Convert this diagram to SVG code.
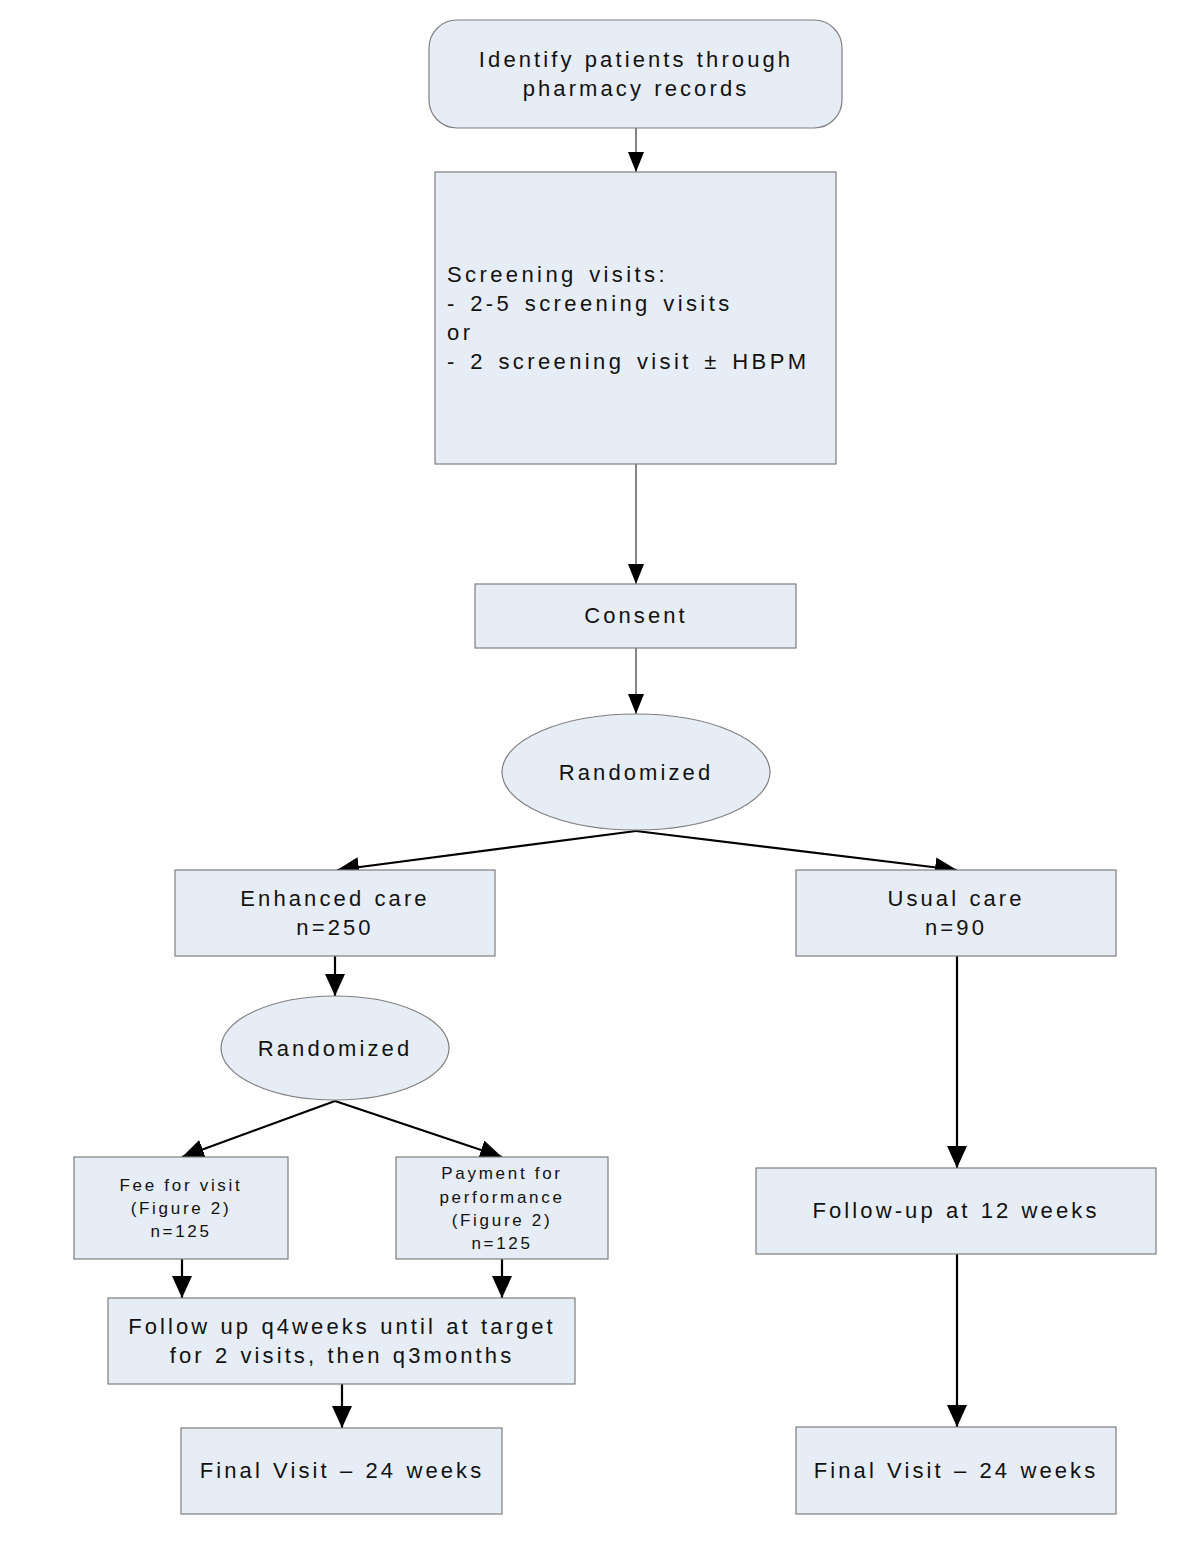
<svg xmlns="http://www.w3.org/2000/svg" width="1200" height="1553" viewBox="0 0 1200 1553">
<style>
.n{fill:#e7edf6;stroke:#7f7f7f;stroke-width:1.2}
.t{font-family:"Liberation Sans",Arial,sans-serif;font-size:22px;letter-spacing:3.1px;word-spacing:1px;fill:#111;text-anchor:middle}
.s{font-size:17px;letter-spacing:2.7px;word-spacing:0px}
.l{text-anchor:start;letter-spacing:3.4px;word-spacing:3px}
.c1{stroke:#333;stroke-width:1.2;fill:none}
.c2{stroke:#000;stroke-width:2.2;fill:none}
</style>
<defs>
<marker id="a1" markerWidth="20" markerHeight="16" refX="20" refY="8" orient="auto" markerUnits="userSpaceOnUse"><path d="M0,0 L20,8 L0,16 Z" fill="#000"/></marker>
<marker id="a2" markerWidth="22" markerHeight="20" refX="22" refY="10" orient="auto" markerUnits="userSpaceOnUse"><path d="M0,0 L22,10 L0,20 Z" fill="#000"/></marker>
</defs>
<rect width="1200" height="1553" fill="#fff"/>
<g id="connectors">
<line class="c1" x1="636" y1="128" x2="636" y2="172" marker-end="url(#a1)"/>
<line class="c1" x1="636" y1="453" x2="636" y2="584" marker-end="url(#a1)"/>
<line class="c1" x1="636" y1="648" x2="636" y2="714" marker-end="url(#a1)"/>
<line class="c2" x1="636" y1="831" x2="337" y2="870" marker-end="url(#a2)"/>
<line class="c2" x1="636" y1="831" x2="957" y2="870" marker-end="url(#a2)"/>
<line class="c2" x1="335" y1="956" x2="335" y2="996" marker-end="url(#a2)"/>
<line class="c2" x1="335" y1="1101" x2="182" y2="1157" marker-end="url(#a2)"/>
<line class="c2" x1="335" y1="1101" x2="502" y2="1157" marker-end="url(#a2)"/>
<line class="c2" x1="182" y1="1259" x2="182" y2="1298" marker-end="url(#a2)"/>
<line class="c2" x1="502" y1="1259" x2="502" y2="1298" marker-end="url(#a2)"/>
<line class="c2" x1="342" y1="1384" x2="342" y2="1428" marker-end="url(#a2)"/>
<line class="c2" x1="957" y1="956" x2="957" y2="1168" marker-end="url(#a2)"/>
<line class="c2" x1="957" y1="1254" x2="957" y2="1427" marker-end="url(#a2)"/>
</g>
<g id="identify">
<rect class="n" x="429" y="20" width="413" height="108" rx="28"/>
<text class="t" x="636" y="67">Identify patients through</text>
<text class="t" x="636" y="96">pharmacy records</text>
</g>
<g id="screening">
<rect class="n" x="435" y="172" width="401" height="292"/>
<text class="t l" x="447" y="282">Screening visits:</text>
<text class="t l" x="447" y="311">- 2-5 screening visits</text>
<text class="t l" x="447" y="340">or</text>
<text class="t l" x="447" y="369">- 2 screening visit ± HBPM</text>
</g>
<g id="consent">
<rect class="n" x="475" y="584" width="321" height="64"/>
<text class="t" x="636" y="623">Consent</text>
</g>
<g id="randomized1">
<ellipse class="n" cx="636" cy="772" rx="134" ry="58"/>
<text class="t" x="636" y="780">Randomized</text>
</g>
<g id="enhanced">
<rect class="n" x="175" y="870" width="320" height="86"/>
<text class="t" x="335" y="906">Enhanced care</text>
<text class="t" x="335" y="935">n=250</text>
</g>
<g id="usual">
<rect class="n" x="796" y="870" width="320" height="86"/>
<text class="t" x="956" y="906">Usual care</text>
<text class="t" x="956" y="935">n=90</text>
</g>
<g id="randomized2">
<ellipse class="n" cx="335" cy="1048" rx="114" ry="52"/>
<text class="t" x="335" y="1056">Randomized</text>
</g>
<g id="fee">
<rect class="n" x="74" y="1157" width="214" height="102"/>
<text class="t s" x="181" y="1191">Fee for visit</text>
<text class="t s" x="181" y="1214">(Figure 2)</text>
<text class="t s" x="181" y="1237">n=125</text>
</g>
<g id="payment">
<rect class="n" x="396" y="1157" width="212" height="102"/>
<text class="t s" x="502" y="1179">Payment for</text>
<text class="t s" x="502" y="1203">performance</text>
<text class="t s" x="502" y="1226">(Figure 2)</text>
<text class="t s" x="502" y="1249">n=125</text>
</g>
<g id="followup4">
<rect class="n" x="108" y="1298" width="467" height="86"/>
<text class="t" x="342" y="1334">Follow up q4weeks until at target</text>
<text class="t" x="342" y="1363">for 2 visits, then q3months</text>
</g>
<g id="final1">
<rect class="n" x="181" y="1428" width="321" height="86"/>
<text class="t" x="342" y="1478">Final Visit – 24 weeks</text>
</g>
<g id="followup12">
<rect class="n" x="756" y="1168" width="400" height="86"/>
<text class="t" x="956" y="1218">Follow-up at 12 weeks</text>
</g>
<g id="final2">
<rect class="n" x="796" y="1427" width="320" height="87"/>
<text class="t" x="956" y="1478">Final Visit – 24 weeks</text>
</g>
</svg>
